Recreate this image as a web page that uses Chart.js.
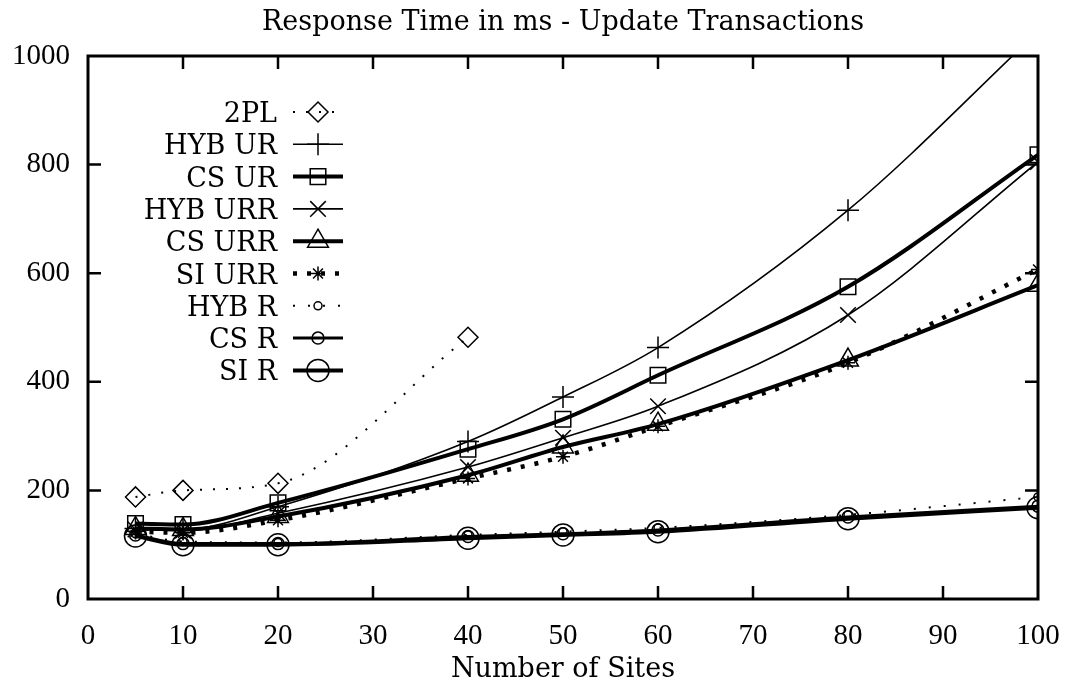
<!DOCTYPE html>
<html>
<head>
<meta charset="utf-8">
<script src="https://cdn.jsdelivr.net/npm/chart.js@4.4.1/dist/chart.umd.min.js"></script>
<style>
  html, body { margin: 0; padding: 0; background: #fff; }
  #wrap { width: 1067px; height: 685px; }
</style>
</head>
<body>
<div id="wrap"><canvas id="c" width="1067" height="685"></canvas></div>
<script>
// ---- data ----
const sites      = [5, 10, 20, 40, 50, 60, 80, 100];
const sites2PL   = [5, 10, 20, 40];
const yTicks     = [0, 200, 400, 600, 800, 1000];
const xTicks     = [0, 10, 20, 30, 40, 50, 60, 70, 80, 90, 100];

const v2PL    = [188, 200, 213, 482];
const vHybUR  = [130, 128, 170, 290, 372, 463, 716, 1045];
const vCsUR   = [139, 137, 177, 276, 331, 412, 575, 818];
const vHybURR = [128, 126, 158, 243, 297, 355, 523, 805];
const vCsURR  = [130, 128, 152, 228, 280, 322, 440, 578];
const vSiURR  = [124, 122, 145, 222, 262, 318, 435, 607];
const vHybR   = [120, 106, 104, 118, 124, 131, 155, 188];
const vCsR    = [118, 102, 102, 115, 120, 127, 151, 171];
const vSiR    = [116, 100, 100, 112, 118, 124, 148, 168];

const labels     = ['2PL', 'HYB UR', 'CS UR', 'HYB URR', 'CS URR', 'SI URR', 'HYB R', 'CS R', 'SI R'];
const titleText  = 'Response Time in ms - Update Transactions';
const xTitleText = 'Number of Sites';

const TEXT_FONT = '"DejaVu Serif", "Liberation Serif", serif';
const TEXT_FS = 27;
const NUM_FONT = '"Liberation Serif", "Times New Roman", serif';
const NUM_FS = 29;

function pts(xs, ys) { return xs.map((x, i) => ({ x: x, y: ys[i] })); }

function ds(label, xs, ys, width, dash, style, radius) {
  return {
    label: label,
    data: pts(xs, ys),
    borderColor: '#000',
    borderWidth: width,
    borderDash: dash,
    pointStyle: style,
    pointRadius: radius,
    pointHoverRadius: radius,
    pointBorderColor: '#000',
    pointBackgroundColor: 'rgba(0,0,0,0)',
    pointBorderWidth: 1.5,
    cubicInterpolationMode: 'monotone',
    fill: false
  };
}

const datasets = [
  ds(labels[0], sites2PL, v2PL,   2,   [2, 11], 'rectRot', 10),
  ds(labels[1], sites, vHybUR,    1.6, [],      'cross', 11),
  ds(labels[2], sites, vCsUR,     4,   [],      'rect', 11),
  ds(labels[3], sites, vHybURR,   1.6, [],      'crossRot', 11),
  ds(labels[4], sites, vCsURR,    4,   [],      'triangle', 12),
  ds(labels[5], sites, vSiURR,    4.5, [4, 10], 'star', 7),
  ds(labels[6], sites, vHybR,     2,   [2, 13], 'circle', 4),
  ds(labels[7], sites, vCsR,      3,   [],      'circle', 6),
  ds(labels[8], sites, vSiR,      4,   [],      'circle', 11)
];

// frame with inward ticks on all four sides
const frameTicks = {
  id: 'frameTicks',
  afterDatasetsDraw(chart) {
    const { ctx, chartArea: a, scales } = chart;
    const xs = scales.x, ys = scales.y;
    const L = 13;
    ctx.save();
    ctx.strokeStyle = '#000';
    ctx.lineWidth = 2.5;
    ctx.setLineDash([]);
    ctx.beginPath();
    xs.ticks.forEach(t => {
      const p = xs.getPixelForValue(t.value);
      if (p <= a.left + 1 || p >= a.right - 1) return;
      ctx.moveTo(p, a.bottom); ctx.lineTo(p, a.bottom - L);
      ctx.moveTo(p, a.top); ctx.lineTo(p, a.top + L);
    });
    ys.ticks.forEach(t => {
      const p = ys.getPixelForValue(t.value);
      if (p <= a.top + 1 || p >= a.bottom - 1) return;
      ctx.moveTo(a.left, p); ctx.lineTo(a.left + L, p);
      ctx.moveTo(a.right, p); ctx.lineTo(a.right - L, p);
    });
    ctx.stroke();
    ctx.lineWidth = 3;
    ctx.strokeRect(a.left, a.top, a.right - a.left, a.bottom - a.top);
    ctx.restore();
  }
};

// titles centred on the plot area, like gnuplot
const titles = {
  id: 'titles',
  afterDraw(chart) {
    const { ctx, chartArea: a } = chart;
    const cx = (a.left + a.right) / 2;
    ctx.save();
    ctx.fillStyle = '#000';
    ctx.font = TEXT_FS + 'px ' + TEXT_FONT;
    ctx.textAlign = 'center';
    ctx.textBaseline = 'alphabetic';
    ctx.fillText(titleText, cx, 30);
    ctx.fillText(xTitleText, cx, 677);
    ctx.restore();
  }
};

// gnuplot-style legend inside the plot (text right-aligned, sample to the right)
const insideLegend = {
  id: 'insideLegend',
  afterDraw(chart) {
    const ctx = chart.ctx;
    const textRight = 277, x0 = 293, x1 = 343, y0 = 112, step = 32.3;
    ctx.save();
    chart.data.datasets.forEach((d, i) => {
      const yy = y0 + i * step;
      ctx.fillStyle = '#000';
      ctx.font = TEXT_FS + 'px ' + TEXT_FONT;
      ctx.textAlign = 'right';
      ctx.textBaseline = 'alphabetic';
      ctx.fillText(d.label, textRight, yy + 10);
      ctx.strokeStyle = '#000';
      ctx.lineWidth = d.borderWidth;
      ctx.setLineDash(d.borderDash || []);
      ctx.beginPath();
      ctx.moveTo(x0, yy); ctx.lineTo(x1, yy);
      ctx.stroke();
      ctx.setLineDash([]);
      if (Chart.helpers && Chart.helpers.drawPoint) {
        ctx.lineWidth = d.pointBorderWidth;
        ctx.fillStyle = 'rgba(0,0,0,0)';
        Chart.helpers.drawPoint(ctx, {
          pointStyle: d.pointStyle, radius: d.pointRadius, rotation: 0,
          borderWidth: d.pointBorderWidth
        }, (x0 + x1) / 2, yy);
      }
    });
    ctx.restore();
  }
};

new Chart(document.getElementById('c'), {
  type: 'line',
  data: { datasets: datasets },
  plugins: [frameTicks, titles, insideLegend],
  options: {
    responsive: false,
    animation: false,
    events: [],
    layout: { padding: { left: 0, right: 29, top: 56, bottom: 0 } },
    plugins: {
      legend: { display: false },
      tooltip: { enabled: false },
      title: { display: false }
    },
    scales: {
      x: {
        type: 'linear', min: 0, max: 100,
        afterFit(s) { s.height = 86; s.paddingLeft = 0; s.paddingRight = 0; },
        afterBuildTicks(s) { s.ticks = xTicks.map(v => ({ value: v })); },
        ticks: { color: '#000', font: { family: NUM_FONT, size: NUM_FS }, padding: 20, maxRotation: 0, autoSkip: false,
                 callback: v => String(v) },
        grid: { display: false, drawTicks: false },
        border: { display: false }
      },
      y: {
        type: 'linear', min: 0, max: 1000,
        afterFit(s) { s.width = 88; s.paddingTop = 0; s.paddingBottom = 0; },
        afterBuildTicks(s) { s.ticks = yTicks.map(v => ({ value: v })); },
        ticks: { color: '#000', font: { family: NUM_FONT, size: NUM_FS }, padding: 18, autoSkip: false,
                 callback: v => String(v) },
        grid: { display: false, drawTicks: false },
        border: { display: false }
      }
    }
  }
});
</script>
</body>
</html>
